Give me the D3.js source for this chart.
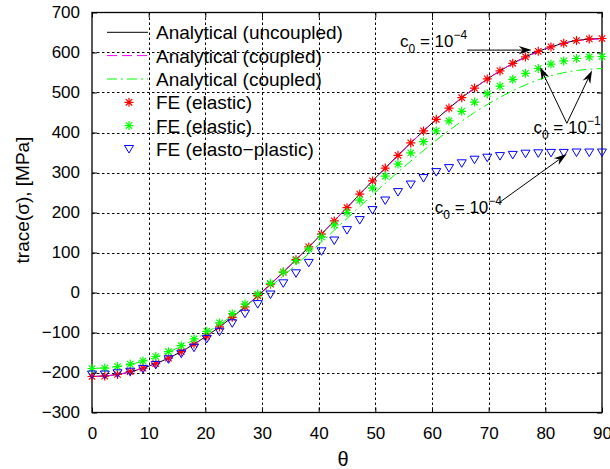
<!DOCTYPE html>
<html><head><meta charset="utf-8">
<script src="https://cdn.jsdelivr.net/npm/d3@7"></script>
<style>body{margin:0;background:#fff} text{font-family:"Liberation Sans",Arial,Helvetica,sans-serif;fill:#000}</style>
</head><body>
<svg id="c" width="610" height="469"></svg>
<script>
const xTicks = [0,10,20,30,40,50,60,70,80,90];
const yTicks = [-300,-200,-100,0,100,200,300,400,500,600,700];

const thetaFE = [0,2.25,4.5,6.75,9,11.25,13.5,15.75,18,20.25,22.5,24.75,27,29.25,31.5,33.75,36,38.25,40.5,42.75,45,47.25,49.5,51.75,54,56.25,58.5,60.75,63,65.25,67.5,69.75,72,74.25,76.5,78.75,81,83.25,85.5,87.75,90];
const feElastic4 = [-210,-209,-205,-198,-189,-178,-164,-148,-129,-109,-86,-62,-36,-8,21,51,82,114,146,179,212,246,279,311,343,374,404,433,461,487,511,534,554,573,589,603,614,623,630,634,635];
const feElastic1 = [-190,-189,-185,-179,-171,-160,-148,-133,-116,-97,-76,-53,-29,-4,23,51,80,109,139,169,200,231,261,291,321,349,377,404,429,453,476,497,516,533,548,560,571,579,585,589,590];
const feElastoPlastic = [-205,-205,-202,-198,-191,-181,-167,-153,-138,-116,-98,-77,-53,-29,-5,23,48,74,103,130,156,181,206,230,251,270,286,301,311,323,332,337,341,344,347,348,349,349,350,350,350];

const thetaAn = [0,4.5,9,13.5,18,22.5,27,31.5,36,40.5,45,49.5,54,58.5,63,67.5,72,76.5,81,85.5,90];
const anUncoupled = [-210,-205,-189,-164,-129,-86,-36,21,82,146,212.5,279,343,404,461,511,554,589,614,630,635];
const anCoupled4 = [-210,-205,-189,-164,-130,-87,-37,20,81,146,212,278,342,404,460,511,554,588,614,629,634];
const anCoupled1 = [-190,-185,-172,-149,-118,-80,-35,15,69,126,185,244,301,355,405,450,488,519,542,555,560];

const legendLabels = ["Analytical (uncoupled)","Analytical (coupled)","Analytical (coupled)","FE (elastic)","FE (elastic)","FE (elasto\u2212plastic)"];

const svg = d3.select("#c");
const L = 92, R = 602, T = 12.5, B = 412.5;
const x = d3.scaleLinear().domain([0,90]).range([L,R]);
const y = d3.scaleLinear().domain([-300,700]).range([B,T]);

// grid
const grid = svg.append("g").attr("stroke","#000").attr("stroke-width",1).attr("stroke-dasharray","2.5,2.5");
grid.selectAll("line.v").data(xTicks.slice(1,-1)).join("line")
  .attr("x1",d=>Math.round(x(d))+0.5).attr("x2",d=>Math.round(x(d))+0.5).attr("y1",T).attr("y2",B);
grid.selectAll("line.h").data(yTicks.slice(1,-1)).join("line")
  .attr("y1",d=>Math.round(y(d))+0.5).attr("y2",d=>Math.round(y(d))+0.5).attr("x1",L).attr("x2",R);

const fmt = d => d < 0 ? "\u2212" + Math.abs(d) : String(d);
function styleAxis(g){ g.select(".domain").remove(); g.selectAll("line").attr("stroke","#000"); g.selectAll("text").attr("font-size",17).attr("font-family","Liberation Sans, Arial, sans-serif").attr("fill","#000"); }
svg.append("g").attr("transform",`translate(${L},0)`).call(d3.axisLeft(y).tickValues(yTicks).tickSizeInner(-5).tickSizeOuter(0).tickPadding(12).tickFormat(fmt)).call(styleAxis);
svg.append("g").attr("transform",`translate(0,${B})`).call(d3.axisBottom(x).tickValues(xTicks).tickSizeInner(-5).tickSizeOuter(0).tickPadding(14).tickFormat(d3.format("d"))).call(styleAxis);
svg.append("g").attr("transform",`translate(${R},0)`).call(d3.axisRight(y).tickValues(yTicks).tickSizeInner(-5).tickSizeOuter(0).tickFormat("")).call(styleAxis);
svg.append("g").attr("transform",`translate(0,${T})`).call(d3.axisTop(x).tickValues(xTicks).tickSizeInner(-5).tickSizeOuter(0).tickFormat("")).call(styleAxis);

svg.append("rect").attr("x",L).attr("y",T).attr("width",R-L).attr("height",B-T).attr("fill","none").attr("stroke","#000").attr("stroke-width",1.3);

// lines
const line = d3.line().x(d=>x(d[0])).y(d=>y(d[1])).curve(d3.curveMonotoneX);
const zip = (a,b) => a.map((v,i)=>[v,b[i]]);
const lineStyles = [
  {data: anUncoupled, color:"#000", dash:null},
  {data: anCoupled4, color:"#ff00ff", dash:"10,5"},
  {data: anCoupled1, color:"#00ff00", dash:"10,4,2,4"}
];
lineStyles.forEach(s=>{
  svg.append("path").attr("d",line(zip(thetaAn,s.data))).attr("fill","none").attr("stroke",s.color).attr("stroke-width",1).attr("stroke-dasharray",s.dash);
});

// markers
const k = 4.5, kd = 3.2;
const asterisk = `M${-k},0H${k}M0,${-k}V${k}M${-kd},${-kd}L${kd},${kd}M${-kd},${kd}L${kd},${-kd}`;
const triDown = "M-4.5,-3.5L4.5,-3.5L0,4Z";
const markerSets = [
  {data: feElastic4, color:"#ff0000", path: asterisk, w:1.2},
  {data: feElastic1, color:"#00ff00", path: asterisk, w:1.2},
  {data: feElastoPlastic, color:"#0000ff", path: triDown, w:1}
];
markerSets.forEach(s=>{
  svg.append("g").selectAll("path").data(zip(thetaFE,s.data)).join("path")
    .attr("transform",d=>`translate(${x(d[0])},${y(d[1])})`)
    .attr("d",s.path).attr("fill","none").attr("stroke",s.color).attr("stroke-width",s.w);
});

// legend
const legY = [32.3,55.6,79,102.3,125.6,149];
const lg = svg.append("g");
legendLabels.forEach((lab,i)=>{
  const yy = legY[i];
  if (i < 3) {
    const s = lineStyles[i];
    lg.append("line").attr("x1",107).attr("x2",148).attr("y1",yy).attr("y2",yy)
      .attr("stroke",s.color).attr("stroke-width",1).attr("stroke-dasharray",s.dash);
  } else {
    const s = markerSets[i-3];
    lg.append("path").attr("transform",`translate(129,${yy})`).attr("d",s.path).attr("fill","none").attr("stroke",s.color).attr("stroke-width",s.w);
  }
  lg.append("text").attr("x",156).attr("y",yy+7).attr("font-size",19).text(lab);
});

// axis labels
svg.append("text").attr("transform","translate(29,200) rotate(-90)").attr("text-anchor","middle").attr("font-size",19).text("trace(\u03c3), [MPa]");
svg.append("text").attr("x",343).attr("y",466).attr("text-anchor","middle").attr("font-size",20).attr("font-family","Liberation Serif, serif").text("\u03b8");

// annotations
function arrow(a, b){
  const x1=x(a[0]), y1=y(a[1]), x2=x(b[0]), y2=y(b[1]);
  const dx=x2-x1, dy=y2-y1, len=Math.hypot(dx,dy), ux=dx/len, uy=dy/len, nx=-uy, ny=ux;
  const HL=13, HW=4.2, N=9;
  svg.append("line").attr("x1",x1).attr("y1",y1).attr("x2",x2-ux*N).attr("y2",y2-uy*N).attr("stroke","#000").attr("stroke-width",1);
  const p = [[x2,y2],[x2-ux*HL+nx*HW,y2-uy*HL+ny*HW],[x2-ux*N,y2-uy*N],[x2-ux*HL-nx*HW,y2-uy*HL-ny*HW]];
  svg.append("path").attr("d","M"+p.map(q=>q.join(",")).join("L")+"Z").attr("fill","#000");
}
function label(pos, exp){
  const t = svg.append("text").attr("x",x(pos[0])).attr("y",y(pos[1])).attr("font-size",17);
  t.append("tspan").text("c");
  t.append("tspan").attr("font-size",12).attr("dy",6).text("0");
  t.append("tspan").attr("dy",-6).text(" = 10");
  t.append("tspan").attr("font-size",12).attr("dy",-8).text("\u2212"+exp);
}
const ann1Text = [54.35,613.75], ann1From=[66.2,606], ann1To=[77.6,606];
const ann2Text = [77.9,398.75], ann2From=[83.8,423], ann2ToA=[79.06,563.75], ann2ToB=[88.24,555];
const ann3Text = [60.5,198.75], ann3From=[71.7,223], ann3To=[83.77,346];
label(ann1Text,"4"); arrow(ann1From,ann1To);
label(ann2Text,"1"); arrow(ann2From,ann2ToA); arrow(ann2From,ann2ToB);
label(ann3Text,"4"); arrow(ann3From,ann3To);
</script>
</body></html>
